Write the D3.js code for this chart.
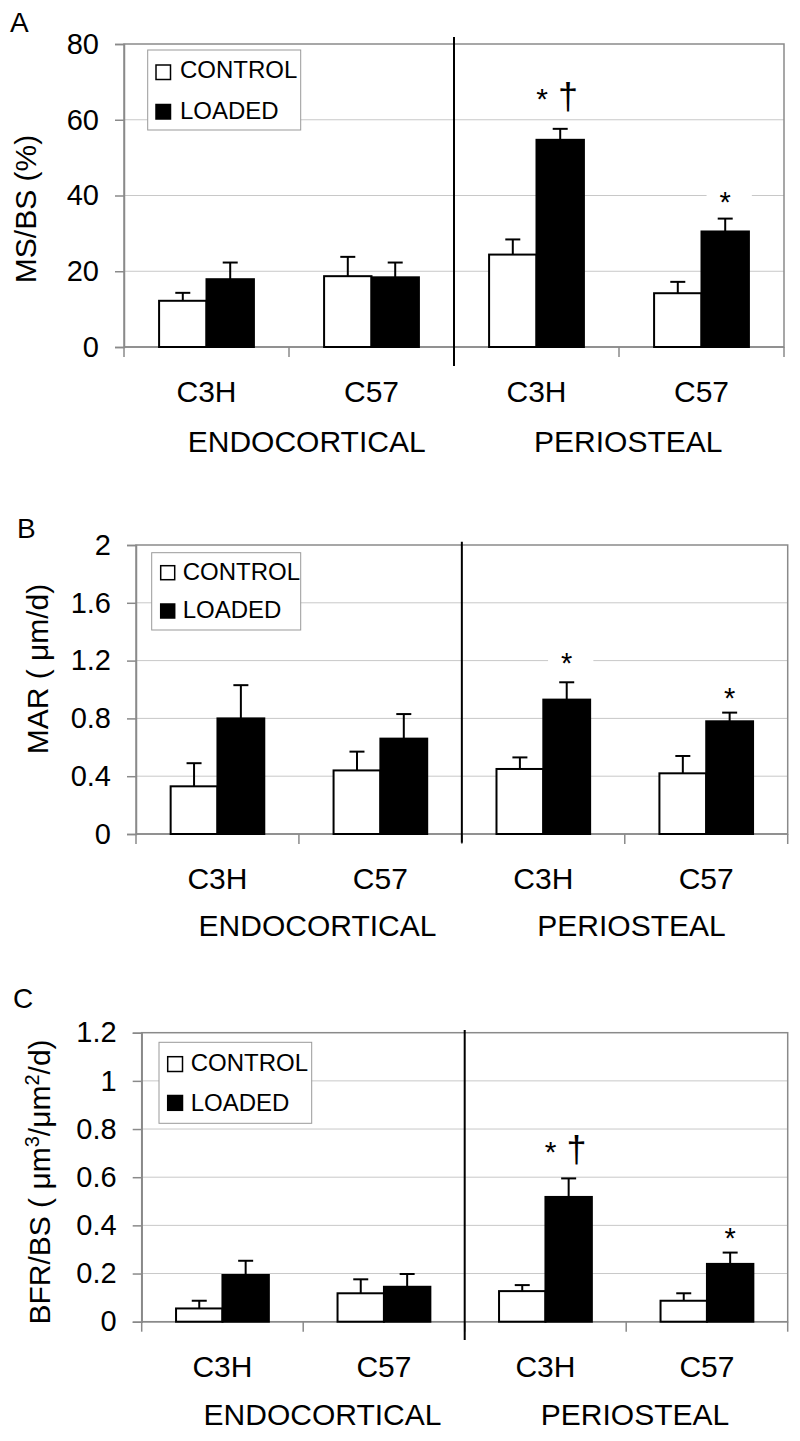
<!DOCTYPE html>
<html><head><meta charset="utf-8">
<script src="https://cdn.jsdelivr.net/npm/d3@7"></script>
<style>body{margin:0;background:#fff}svg{display:block}text{font-family:"Liberation Sans",Arial,Helvetica,sans-serif;fill:#000}</style>
</head><body><svg id="c" width="800" height="1441"></svg>
<script>
// ---- data ----
const categories = ["C3H", "C57", "C3H", "C57"];
const groups = ["ENDOCORTICAL", "PERIOSTEAL"];
const seriesNames = ["CONTROL", "LOADED"];

const msbsControl    = [12.2, 18.7, 24.4, 14.2];
const msbsControlErr = [2.1, 5.1, 4.0, 3.0];
const msbsLoaded     = [17.9, 18.4, 54.7, 30.5];
const msbsLoadedErr  = [4.4, 3.9, 2.9, 3.4];
const msbsMarks      = ["", "", "* \u2020", "*"];
const msbsTicks      = [0, 20, 40, 60, 80];

const marControl     = [0.33, 0.44, 0.45, 0.42];
const marControlErr  = [0.16, 0.13, 0.08, 0.12];
const marLoaded      = [0.80, 0.66, 0.93, 0.78];
const marLoadedErr   = [0.23, 0.17, 0.12, 0.06];
const marMarks       = ["", "", "*", "*"];
const marTicks       = [0, 0.4, 0.8, 1.2, 1.6, 2];

const bfrControl     = [0.055, 0.118, 0.127, 0.087];
const bfrControlErr  = [0.032, 0.058, 0.025, 0.031];
const bfrLoaded      = [0.194, 0.145, 0.518, 0.240];
const bfrLoadedErr   = [0.059, 0.053, 0.077, 0.047];
const bfrMarks       = ["", "", "* \u2020", "*"];
const bfrTicks       = [0, 0.2, 0.4, 0.6, 0.8, 1, 1.2];

// ---- layout ----
const panels = [
  {label:"A", lx:10, ly:32, title:[["MS/BS (%)",0]], tx:36, ty:209,
   control:msbsControl, cErr:msbsControlErr, loaded:msbsLoaded, lErr:msbsLoadedErr, marks:msbsMarks, ticks:msbsTicks,
   l:124, r:784, t:44, b:347, catY:402, grpY:452, grpX:[306.7,628.3], div:[37,366], gaps:[0,0,19.7,7],
   leg:{x:147.7,y:50,w:153,h:80,sx:156,sy:[65,104.5],s:14.5,tx:180,ty:[78.3,119]}},
  {label:"B", lx:17, ly:538, title:[["MAR ( \u03bcm/d)",0]], tx:48, ty:669,
   control:marControl, cErr:marControlErr, loaded:marLoaded, lErr:marLoadedErr, marks:marMarks, ticks:marTicks,
   l:136, r:787.7, t:545, b:834, catY:888.5, grpY:936, grpX:[317.5,631.5], div:[541.7,842.7], gaps:[0,0,9.5,4.5],
   leg:{x:151.7,y:552.7,w:149,h:77.3,sx:160.7,sy:[565.7,604],s:14,tx:182.7,ty:[580,618.3]}},
  {label:"C", lx:13, ly:1008, title:[["BFR/BS ( \u03bcm",0],["3",-1],["/\u03bcm",1],["2",-1],["/d)",1]], tx:50, ty:1182,
   control:bfrControl, cErr:bfrControlErr, loaded:bfrLoaded, lErr:bfrLoadedErr, marks:bfrMarks, ticks:bfrTicks,
   l:141.7, r:787.7, t:1032.7, b:1321.7, catY:1377, grpY:1425, grpX:[322.5,635], div:[1030,1340], gaps:[0,0,16.6,4.2],
   leg:{x:159,y:1042.3,w:152.7,h:81,sx:167.7,sy:[1056.7,1095.5],s:14.8,tx:190.7,ty:[1070.7,1110.7]}}
];

const svg = d3.select("#c");
svg.append("rect").attr("width",800).attr("height",1441).attr("fill","#fff");
const frameCol = "#8a8a8a", gridCol = "#c8c8c8";

panels.forEach(p => {
  const g = svg.append("g");
  const y = d3.scaleLinear().domain([0, d3.max(p.ticks)]).range([p.b, p.t]);
  const x = d3.scaleBand().domain(d3.range(categories.length)).range([p.l, p.r]).padding(0);
  const xs = d3.scaleBand().domain(seriesNames).range([0, x.bandwidth()]).paddingInner(0).paddingOuter(0.74);

  // gridlines
  g.append("g").selectAll("line").data(p.ticks.filter(v => v > 0 && v < d3.max(p.ticks))).join("line")
    .attr("x1", p.l).attr("x2", p.r).attr("y1", d => y(d)).attr("y2", d => y(d))
    .attr("stroke", gridCol).attr("stroke-width", 1);

  // frame
  g.append("rect").attr("x", p.l).attr("y", p.t).attr("width", p.r - p.l).attr("height", p.b - p.t)
    .attr("fill", "none").attr("stroke", frameCol).attr("stroke-width", 1.5);

  // y axis
  const ya = d3.axisLeft(y).tickValues(p.ticks).tickSize(9).tickPadding(16).tickFormat(d => String(d));
  const yg = g.append("g").attr("transform", `translate(${p.l},0)`).call(ya);
  yg.select(".domain").attr("stroke", frameCol).attr("stroke-width", 1.5);
  yg.selectAll(".tick line").attr("stroke", frameCol).attr("stroke-width", 1.5);
  yg.selectAll(".tick text").attr("font-size", 29).attr("fill", "#000")
    .attr("font-family", '"Liberation Sans",Arial,sans-serif');

  // x axis ticks at band boundaries
  const bounds = d3.range(categories.length + 1).map(i => p.l + i * x.step());
  g.append("g").selectAll("line").data(bounds).join("line")
    .attr("x1", d => d).attr("x2", d => d).attr("y1", p.b).attr("y2", p.b + 10)
    .attr("stroke", frameCol).attr("stroke-width", 1.5);
  g.append("line").attr("x1", p.l).attr("x2", p.r).attr("y1", p.b).attr("y2", p.b)
    .attr("stroke", frameCol).attr("stroke-width", 1.5);

  // bars
  const rows = categories.map((c, i) => ({i, vals: [
    {s: seriesNames[0], v: p.control[i], e: p.cErr[i], m: ""},
    {s: seriesNames[1], v: p.loaded[i], e: p.lErr[i], m: p.marks[i]}]}));
  const cg = g.append("g").selectAll("g").data(rows).join("g")
    .attr("transform", d => `translate(${x(d.i)},0)`);
  const bar = cg.selectAll("g").data(d => d.vals.map(v => ({...v, i: d.i}))).join("g");
  bar.append("line").attr("x1", d => xs(d.s) + xs.bandwidth()/2).attr("x2", d => xs(d.s) + xs.bandwidth()/2)
    .attr("y1", d => y(d.v)).attr("y2", d => y(d.v + d.e)).attr("stroke", "#000").attr("stroke-width", 2);
  bar.append("line").attr("x1", d => xs(d.s) + xs.bandwidth()/2 - 7.5).attr("x2", d => xs(d.s) + xs.bandwidth()/2 + 7.5)
    .attr("y1", d => y(d.v + d.e)).attr("y2", d => y(d.v + d.e)).attr("stroke", "#000").attr("stroke-width", 2);
  bar.append("rect").attr("x", d => xs(d.s)).attr("width", xs.bandwidth())
    .attr("y", d => y(d.v)).attr("height", d => y(0) - y(d.v))
    .attr("fill", d => d.s === "LOADED" ? "#000" : "#fff").attr("stroke", "#000").attr("stroke-width", 2);

  // annotations
  bar.filter(d => d.m).each(function(d) {
    const sel = d3.select(this);
    const parts = d.m.split(" ");
    const cx = xs(d.s) + xs.bandwidth()/2 + (parts.length > 1 ? -3 : 0);
    const by = y(d.v + d.e) - p.gaps[d.i];
    const bg = sel.append("rect").attr("fill", "#fff");
    const t = sel.append("text").attr("x", cx).attr("y", by).attr("text-anchor", "middle").attr("font-size", 29);
    t.append("tspan").attr("font-size", parts.length > 1 ? 30 : 29).text(parts[0]);
    if (parts.length > 1) t.append("tspan").attr("font-size", 36).text(" " + parts[1]);
    const bb = t.node().getBBox();
    if (parts.length > 1) bg.attr("x", bb.x - 6).attr("width", bb.width + 12).attr("y", bb.y + 4).attr("height", bb.height - 12);
    else bg.attr("x", bb.x - 13).attr("width", bb.width + 34).attr("y", bb.y + 4).attr("height", bb.height - 8);
  });

  // divider
  g.append("line").attr("x1", p.l + 2 * x.step()).attr("x2", p.l + 2 * x.step())
    .attr("y1", p.div[0]).attr("y2", p.div[1]).attr("stroke", "#000").attr("stroke-width", 2);

  // category labels
  g.append("g").selectAll("text").data(categories).join("text")
    .attr("x", (d, i) => x(i) + x.bandwidth()/2).attr("y", p.catY).attr("text-anchor", "middle")
    .attr("font-size", 30).text(d => d);
  g.append("g").selectAll("text").data(groups).join("text")
    .attr("x", (d, i) => p.grpX[i]).attr("y", p.grpY).attr("text-anchor", "middle")
    .attr("font-size", 30).text(d => d);

  // y title
  const tt = g.append("text").attr("transform", `translate(${p.tx},${p.ty}) rotate(-90)`)
    .attr("text-anchor", "middle").attr("font-size", 30);
  p.title.forEach(([s, sh]) => {
    const ts = tt.append("tspan").text(s);
    if (sh === -1) ts.attr("dy", -11).attr("font-size", 20);
    else if (sh === 1) ts.attr("dy", 11);
  });

  // panel label
  g.append("text").attr("x", p.lx).attr("y", p.ly).attr("font-size", 28).text(p.label);

  // legend
  const L = p.leg;
  g.append("rect").attr("x", L.x).attr("y", L.y).attr("width", L.w).attr("height", L.h)
    .attr("fill", "#fff").attr("stroke", "#999").attr("stroke-width", 1);
  seriesNames.forEach((s, k) => {
    g.append("rect").attr("x", L.sx).attr("y", L.sy[k]).attr("width", L.s).attr("height", L.s)
      .attr("fill", k ? "#000" : "#fff").attr("stroke", "#000").attr("stroke-width", 1.5);
    g.append("text").attr("x", L.tx).attr("y", L.ty[k]).attr("font-size", 24).text(s);
  });
});
</script></body></html>
